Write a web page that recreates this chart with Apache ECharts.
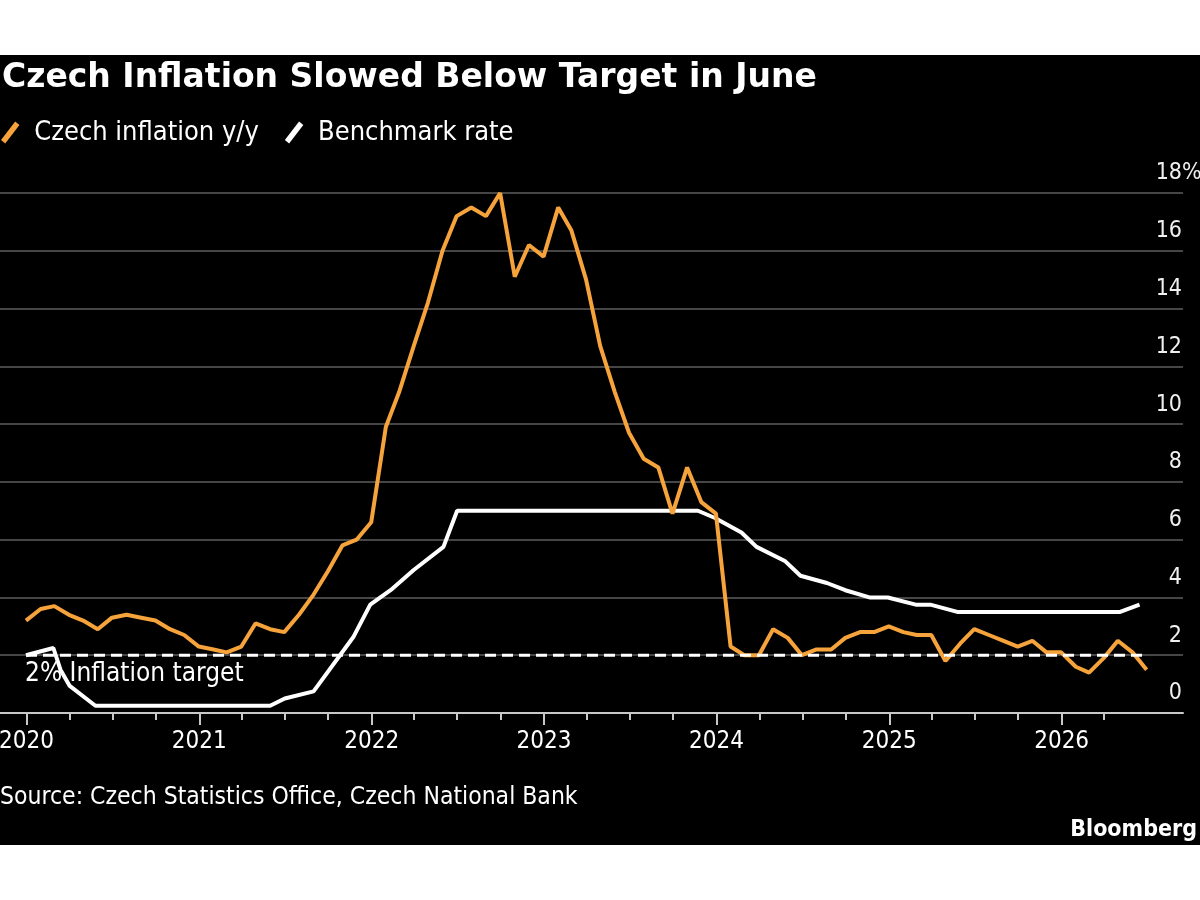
<!DOCTYPE html>
<html>
<head>
<meta charset="utf-8">
<script src="https://cdn.jsdelivr.net/npm/echarts@6/dist/echarts.min.js"></script>
<style>
  body { margin: 0; background: #fff; }
  #chart { position: absolute; left: 0; top: 55px; width: 1200px; height: 790px; background: #000; }
</style>
</head>
<body>
<div id="chart"></div>
<script>
const FONT = "'DejaVu Sans Condensed', 'Liberation Sans Narrow', 'DejaVu Sans', sans-serif";

// Czech CPI y/y, monthly, first value is Dec 2019
const inflationStart = [2019, 12];
const inflation = [
  3.2,
  3.6, 3.7, 3.4, 3.2, 2.9, 3.3, 3.4, 3.3, 3.2, 2.9, 2.7, 2.3,
  2.2, 2.1, 2.3, 3.1, 2.9, 2.8, 3.4, 4.1, 4.9, 5.8, 6.0, 6.6,
  9.9, 11.1, 12.7, 14.2, 16.0, 17.2, 17.5, 17.2, 18.0, 15.1, 16.2, 15.8,
  17.5, 16.7, 15.0, 12.7, 11.1, 9.7, 8.8, 8.5, 6.9, 8.5, 7.3, 6.9,
  2.3, 2.0, 2.0, 2.9, 2.6, 2.0, 2.2, 2.2, 2.6, 2.8, 2.8, 3.0,
  2.8, 2.7, 2.7, 1.8, 2.4, 2.9, 2.7, 2.5, 2.3, 2.5, 2.1, 2.1,
  1.6, 1.4, 1.9, 2.5, 2.1, 1.5
];

// CNB benchmark rate, line vertices as drawn
const rateDates = [
  '2019-12-31', '2020-02-27', '2020-03-13', '2020-04-01', '2020-05-26',
  '2021-05-31', '2021-07-01', '2021-08-31', '2021-11-24', '2021-12-29',
  '2022-02-10', '2022-03-31', '2022-06-02', '2022-07-01', '2023-11-23',
  '2023-12-29', '2024-02-23', '2024-03-26', '2024-05-26', '2024-06-27',
  '2024-08-22', '2024-09-30', '2024-11-20', '2024-12-29', '2025-02-26',
  '2025-03-29', '2025-05-25', '2026-05-05', '2026-06-15'
];
const rateValues = [
  2.0, 2.25, 1.5, 0.95, 0.25,
  0.25, 0.5, 0.75, 2.65, 3.75,
  4.25, 4.95, 5.75, 7.0, 7.0,
  6.75, 6.25, 5.75, 5.25, 4.75,
  4.5, 4.25, 4.0, 4.0, 3.75,
  3.75, 3.5, 3.5, 3.75
];

const targetValue = 2;
const targetDates = ['2019-12-31', '2026-06-30'];

const axisMin = '2019-11-06';
const axisMax = '2026-09-15';
const yearTicks = [2020, 2021, 2022, 2023, 2024, 2025, 2026];
const quarterMonths = [4, 7, 10];
const lastQuarterTick = '2026-04-01';
const yTicks = [0, 18, 2];

// month-end timestamps for the inflation series
const inflationData = inflation.map((v, i) => {
  const m = inflationStart[0] * 12 + inflationStart[1] - 1 + i;
  return [Date.UTC(Math.floor(m / 12), (m % 12) + 1, 0), v];
});
const rateData = rateDates.map((d, i) => [Date.parse(d), rateValues[i]]);
const targetData = targetDates.map(d => [Date.parse(d), targetValue]);

const yearStamps = yearTicks.map(y => Date.UTC(y, 0, 1));
const quarterStamps = [];
yearTicks.forEach(y => quarterMonths.forEach(m => {
  const t = Date.UTC(y, m - 1, 1);
  if (t <= Date.parse(lastQuarterTick)) quarterStamps.push(t);
}));

const tickColor = '#c8c8c8';
const chart = echarts.init(document.getElementById('chart'));

chart.setOption({
  backgroundColor: '#000',
  animation: false,
  textStyle: { fontFamily: FONT },
  title: {
    text: 'Czech Inflation Slowed Below Target in June',
    left: 2,
    top: 7,
    padding: 0,
    textStyle: { color: '#fff', fontSize: 33, fontWeight: 'bold', fontFamily: "'DejaVu Sans', sans-serif" }
  },
  legend: {
    data: ['Czech inflation y/y', 'Benchmark rate'],
    left: 1,
    top: 64,
    padding: 0,
    itemWidth: 20,
    itemHeight: 22,
    itemGap: 26,
    icon: 'path://M0,13 L10,0 L13,2.5 L3,15.5 Z',
    itemStyle: { borderWidth: 0 },
    textStyle: { color: '#fff', fontSize: 27, fontFamily: FONT, padding: [0, 0, 0, 9] }
  },
  grid: { left: 0, right: 17, top: 138, bottom: 132, outerBoundsMode: 'none', containLabel: false },
  xAxis: [
    {
      type: 'value',
      min: Date.parse(axisMin),
      max: Date.parse(axisMax),
      axisLine: { lineStyle: { color: tickColor, width: 2 } },
      axisTick: { length: 12, customValues: yearStamps, lineStyle: { color: tickColor, width: 2 } },
      axisLabel: {
        color: '#fff', fontSize: 24, margin: 17, fontFamily: FONT,
        customValues: yearStamps,
        formatter: v => String(new Date(v).getUTCFullYear())
      },
      splitLine: { show: false }
    },
    {
      type: 'value',
      min: Date.parse(axisMin),
      max: Date.parse(axisMax),
      position: 'bottom',
      axisLine: { show: false },
      axisTick: { length: 7, customValues: quarterStamps, lineStyle: { color: tickColor, width: 2 } },
      axisLabel: { show: false },
      splitLine: { show: false }
    }
  ],
  yAxis: {
    type: 'value',
    position: 'right',
    min: yTicks[0],
    max: yTicks[1],
    interval: yTicks[2],
    axisLine: { show: false },
    axisTick: { show: false },
    splitLine: { lineStyle: { color: '#5e5e5e', width: 1.5 } },
    axisLabel: {
      inside: true,
      margin: 1,
      verticalAlign: 'bottom',
      padding: [0, 0, 8, 0],
      color: '#f0f0f0',
      fontSize: 23,
      fontFamily: FONT
    }
  },
  series: [
    {
      name: 'Benchmark rate',
      type: 'line',
      data: rateData,
      symbol: 'none',
      color: '#ffffff',
      lineStyle: { width: 4, color: '#ffffff' }
    },
    {
      name: 'Czech inflation y/y',
      type: 'line',
      data: inflationData,
      symbol: 'none',
      color: '#f5a33a',
      lineStyle: { width: 4, color: '#f5a33a' }
    },
    {
      name: '2% Inflation target',
      type: 'line',
      data: targetData,
      symbol: 'none',
      silent: true,
      lineStyle: { width: 3, color: '#ffffff', type: [11, 6] }
    }
  ],
  graphic: [
    {
      type: 'text',
      x: 1182, y: 118,
      style: { text: '%', fill: '#f0f0f0', font: '23px ' + FONT, verticalAlign: 'middle' }
    },
    {
      type: 'text',
      x: 25, y: 619,
      style: { text: '2% Inflation target', fill: '#fff', font: '26px ' + FONT, verticalAlign: 'middle' }
    },
    {
      type: 'text',
      x: 0, y: 743,
      style: { text: 'Source: Czech Statistics Office, Czech National Bank', fill: '#fff', font: '24.5px ' + FONT, verticalAlign: 'middle' }
    },
    {
      type: 'text',
      x: 1197, y: 775,
      style: { text: 'Bloomberg', fill: '#fff', font: 'bold 23px ' + FONT, align: 'right', verticalAlign: 'middle' }
    }
  ]
});
</script>
</body>
</html>
